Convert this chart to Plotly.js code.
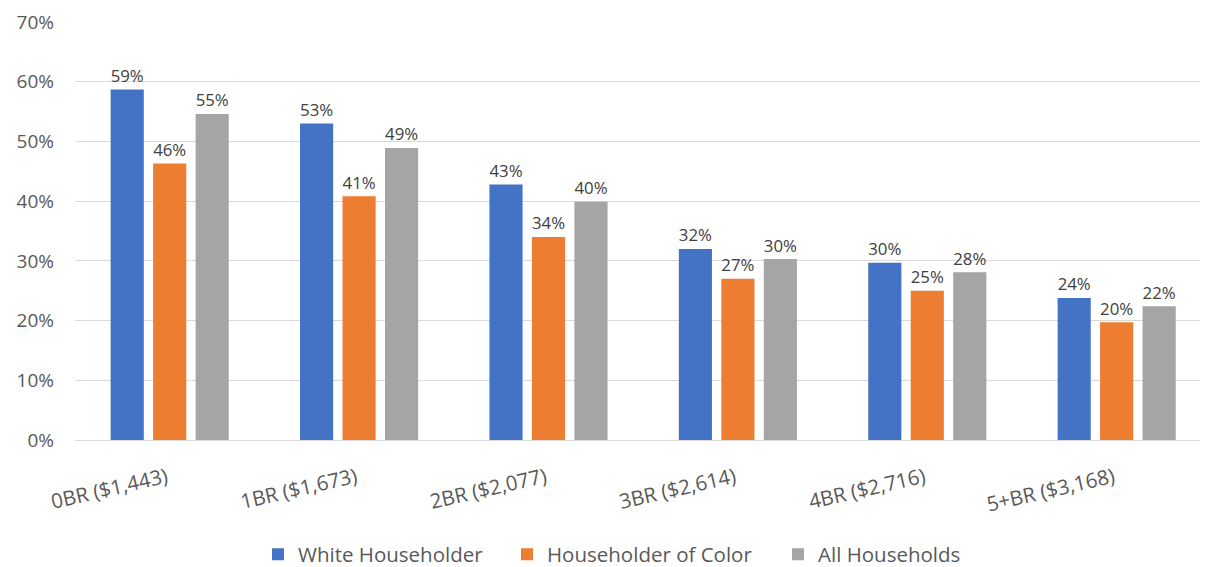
<!DOCTYPE html>
<html>
<head>
<meta charset="utf-8">
<script src="https://cdn.plot.ly/plotly-3.0.1.min.js"></script>
<style>html,body{margin:0;padding:0;background:#fff;}#chart{width:1205px;height:567px;}</style>
</head>
<body>
<div id="chart"></div>
<script>
const categories = ["0BR ($1,443)", "1BR ($1,673)", "2BR ($2,077)", "3BR ($2,614)", "4BR ($2,716)", "5+BR ($3,168)"];
const seriesNames = ["White Householder", "Householder of Color", "All Households"];
const whiteHouseholder = [0.587, 0.530, 0.428, 0.320, 0.297, 0.238];
const householderOfColor = [0.463, 0.408, 0.340, 0.270, 0.250, 0.197];
const allHouseholds = [0.546, 0.489, 0.399, 0.303, 0.281, 0.224];
const colors = ["#4472C4", "#ED7D31", "#A5A5A5"];
const yTickVals = [0, 0.1, 0.2, 0.3, 0.4, 0.5, 0.6, 0.7];

const FONT = "Open Sans, Noto Sans, sans-serif";
const series = [whiteHouseholder, householderOfColor, allHouseholds];
const legendIds = ["legend", "legend2", "legend3"];
const legendTextStart = [300, 549, 820];

const traces = series.map((vals, i) => ({
  type: "bar",
  name: seriesNames[i],
  legend: legendIds[i],
  x: categories,
  y: vals,
  marker: {color: colors[i]},
  texttemplate: "%{y:.0%}",
  textposition: "outside",
  cliponaxis: false,
  textfont: {family: FONT, size: 18.5, color: "#404040"},
  hoverinfo: "skip"
}));

const layout = {
  width: 1205, height: 567,
  margin: {l: 75, r: 5, t: 22, b: 127, autoexpand: false},
  paper_bgcolor: "#ffffff", plot_bgcolor: "#ffffff",
  barmode: "group",
  bargap: 0.327,
  bargroupgap: 0.22,
  font: {family: FONT, color: "#595959"},
  xaxis: {
    type: "category",
    range: [-0.5, 5.44],
    tickangle: -13,
    ticklabelshift: -3,
    ticklabelstandoff: 17,
    tickfont: {family: FONT, size: 20.5, color: "#595959"},
    showgrid: false,
    showline: true, linecolor: "#d9d9d9", linewidth: 1,
    ticks: "",
    automargin: false
  },
  yaxis: {
    range: [0, 0.7],
    tickvals: yTickVals,
    tickformat: ".0%",
    tickfont: {family: FONT, size: 19, color: "#595959"},
    showgrid: true, gridcolor: "#d9d9d9", gridwidth: 1,
    zeroline: false,
    ticks: "",
    ticklabelstandoff: 20,
    automargin: false
  },
  showlegend: true
};

legendIds.forEach((id, i) => {
  layout[id] = {
    orientation: "h",
    xref: "container", yref: "container",
    x: (legendTextStart[i] - 42) / 1205, xanchor: "left",
    y: 0.022, yanchor: "middle",
    font: {family: FONT, size: 20.5, color: "#595959"},
    bgcolor: "rgba(0,0,0,0)"
  };
});

Plotly.newPlot("chart", traces, layout, {displayModeBar: false, staticPlot: true});
</script>
</body>
</html>
